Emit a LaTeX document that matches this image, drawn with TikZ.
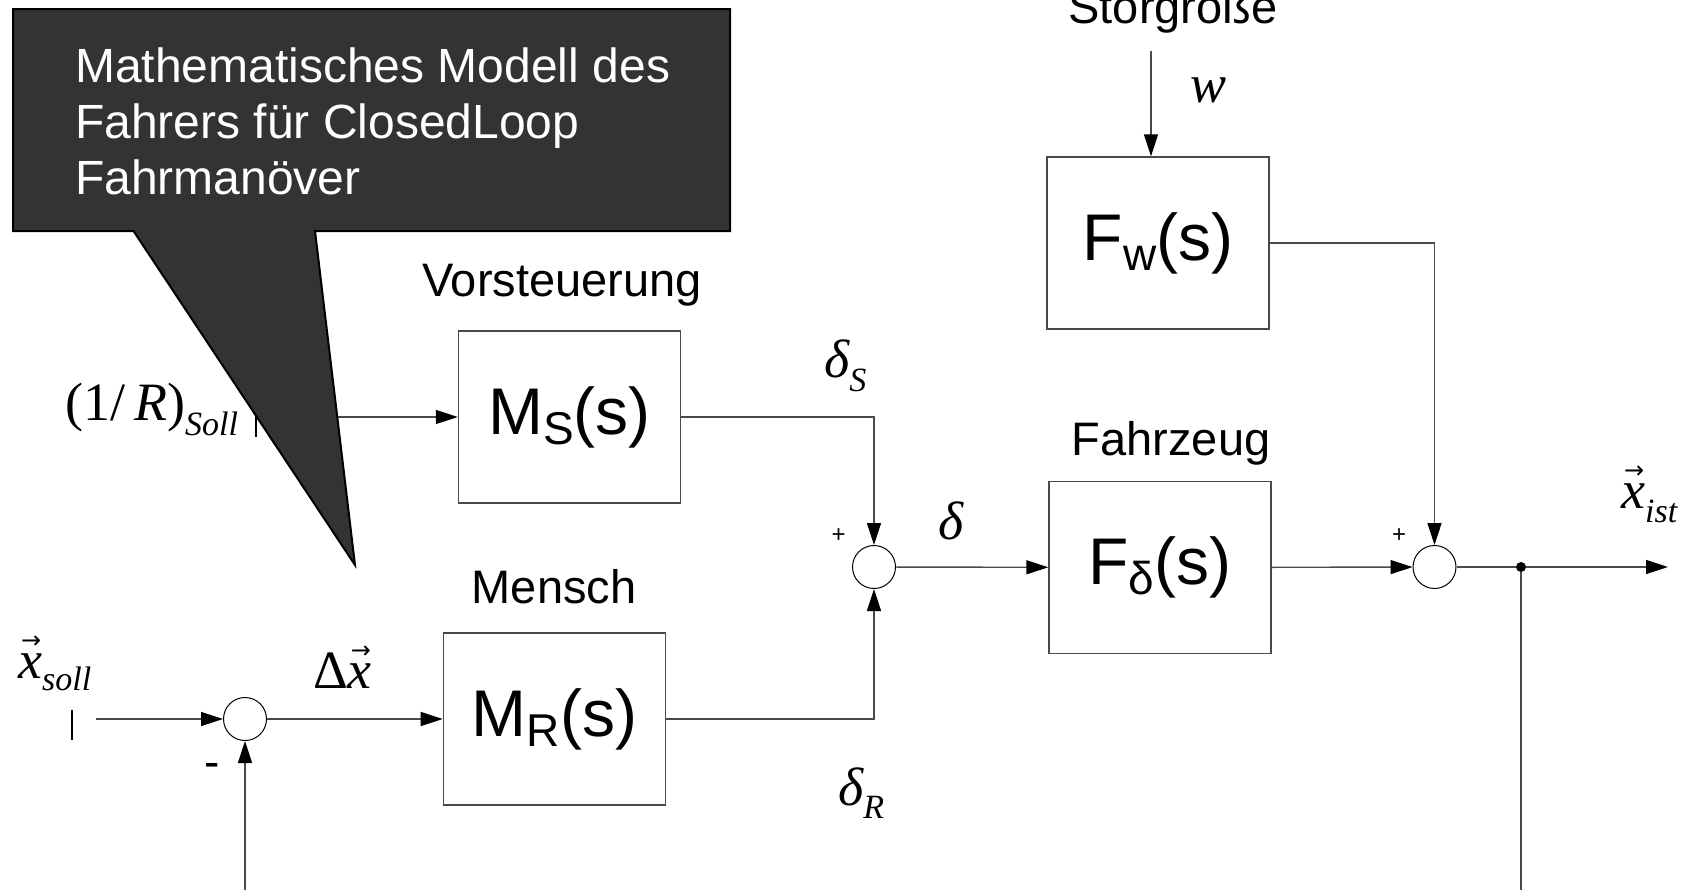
\documentclass[tikz,border=0pt]{standalone}
\usepackage{fontspec}
\setmainfont{Liberation Sans}
\newfontfamily\tim{Liberation Serif}
\newfontfamily\djv{DejaVu Sans}
\usetikzlibrary{arrows.meta}
\definecolor{ln}{HTML}{4A4A4A}
\definecolor{callfill}{HTML}{333333}
\newcommand\fs[1]{\fontsize{#1}{#1}\selectfont}
\newcommand\vx{\makebox[0pt][l]{\hspace{3pt}\raisebox{30pt}{\fs{24}\djv →}}{\itshape x}}
\newcommand\lsub[2]{\raisebox{-#1pt}{\fs{34}\tim\itshape #2}}
\newcommand\bsub[1]{\raisebox{-10pt}{\fs{46}#1}}
\begin{document}
\begin{tikzpicture}[x=1pt,y=-1pt,
  blk/.style={draw=ln,line width=1.4pt,minimum width=222pt,minimum height=172pt,inner sep=0pt,font=\fs{66}},
  sumc/.style={circle,draw=black,line width=1pt,minimum size=43pt,inner sep=0pt},
  conn/.style={draw=ln,line width=1.4pt},
  arr/.style={conn,-{Triangle[length=22pt,width=14pt,color=black]}},
  ttl/.style={anchor=base,font=\fs{47},inner sep=0pt},
  mlab/.style={anchor=base west,font=\fs{54}\tim,inner sep=0pt},
  sgn/.style={anchor=base,inner sep=0pt},
  ctext/.style={anchor=base west,font=\fs{48},text=white,inner sep=0pt},
]
\useasboundingbox (0,0) rectangle (1688,889);
% blocks
\node[blk] (ms) at (569.5,417) {M\bsub{S}(s)};
\node[blk] (mr) at (554.4,719) {M\bsub{R}(s)};
\node[blk] (fd) at (1160,567.5) {F\bsub{δ}(s)};
\node[blk] (fw) at (1158,243) {F\bsub{w}(s)};
% summing points
\node[sumc] (s1) at (245,719) {};
\node[sumc] (s2) at (874,567) {};
\node[sumc] (s3) at (1434.5,567) {};
\node[circle,fill=black,minimum size=10pt,inner sep=0pt] (dot) at (1521,567) {};
% free ends
\coordinate (xin) at (96,719);
\coordinate (rin) at (262,417);
\coordinate (wtop) at (1151,51);
\coordinate (out) at (1668,567);
\coordinate (fbR) at (1521,910);
\coordinate (fbL) at (245,910);
% connectors
\draw[arr] (xin) -- (s1);
\draw[arr] (s1) -- (mr);
\draw[arr] (rin) -- (ms);
\draw[arr] (ms.east) -| (s2.north);
\draw[arr] (mr.east) -| (s2.south);
\draw[arr] (s2) -- (fd);
\draw[arr] (wtop) -- (wtop |- fw.north);
\draw[arr] (fd) -- (s3);
\draw[arr] (fw.east) -| (s3.north);
\draw[conn] (s3) -- (dot);
\draw[arr] (dot) -- (out);
\draw[arr] (dot) -- (fbR) -- (fbL) -- (s1.south);
% small ticks
\draw[line width=1.4pt] (72,710) -- (72,740);
\draw[line width=1.4pt] (256,414) -- (256,437);
% titles
\node[ttl] (lv) at (562,296) {Vorsteuerung};
\node[ttl] (lm) at (554,603) {Mensch};
\node[ttl] (lf) at (1171,455) {Fahrzeug};
\node[ttl] (lsg) at (1173,23) {Störgröße};
% math labels
\node[mlab] (lxs) at (18,678) {\vx\lsub{12}{soll}};
\node[mlab] (ldx) at (313,688) {Δ\vx};
\node[mlab] (lr) at (65,420) {(1/\,{\itshape R})\lsub{15}{Soll}};
\node[mlab] (lds) at (824,377) {{\itshape δ}\lsub{14}{S}};
\node[mlab] (ldr) at (838,805) {{\itshape δ}\lsub{13}{R}};
\node[mlab] (ld) at (938,539) {\itshape δ};
\node[mlab] (lw) at (1190,102) {\itshape w};
\node[mlab] (lxi) at (1621,508) {\vx\lsub{14}{ist}};
% signs
\node[sgn,font=\fs{24}] (p2) at (838.6,542.5) {+};
\node[sgn,font=\fs{24}] (p3) at (1399,542.5) {+};
\node[sgn,font=\fs{46}] (m1) at (212,777) {-};
% callout
\draw[fill=callfill,draw=black,line width=2pt] (13,9) -- (730,9) -- (730,231) -- (315,231) -- (355,565) -- (133.5,231) -- (13,231) -- cycle;
\node[ctext] (c1) at (75,82) {Mathematisches Modell des};
\node[ctext] (c2) at (75,138) {Fahrers für ClosedLoop};
\node[ctext] (c3) at (75,194.5) {Fahrmanöver};
\end{tikzpicture}
\end{document}
